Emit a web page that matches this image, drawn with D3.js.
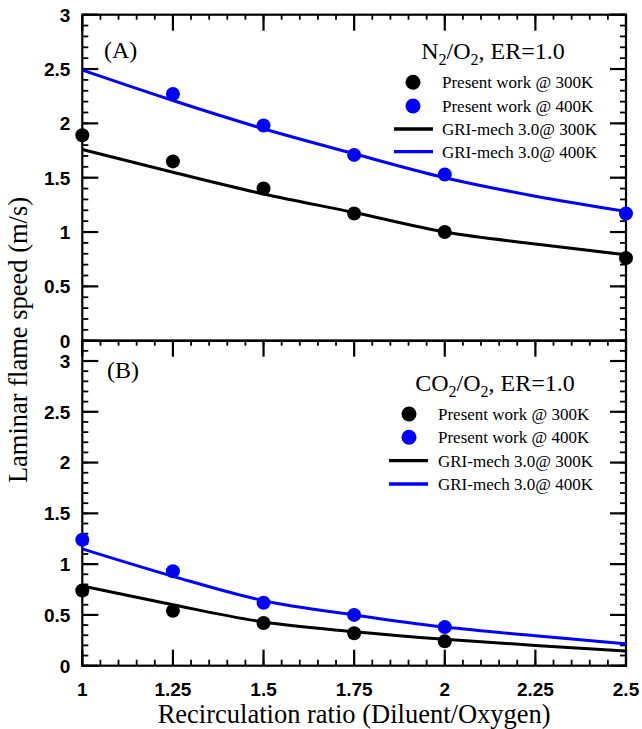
<!DOCTYPE html>
<html><head><meta charset="utf-8">
<script src="https://cdn.jsdelivr.net/npm/d3@7"></script>
<style>body{margin:0;background:#fff}</style>
</head><body><svg id="c" width="642" height="729"></svg>
<script>
// ---------- data ----------
const xGrid = [1, 1.25, 1.5, 1.75, 2, 2.25, 2.5];
const xTicks = [1, 1.25, 1.5, 1.75, 2, 2.25, 2.5];
const yTicks = [0, 0.5, 1, 1.5, 2, 2.5, 3];
// Panel (A) N2/O2
const expX_A300 = [1, 1.25, 1.5, 1.75, 2, 2.5];
const exp_A300  = [1.89, 1.65, 1.40, 1.17, 1.00, 0.76];
const expX_A400 = [1.25, 1.5, 1.75, 2, 2.5];
const exp_A400  = [2.27, 1.98, 1.71, 1.53, 1.17];
const gri_A300  = [1.76, 1.55, 1.35, 1.18, 1.00, 0.89, 0.79];
const gri_A400  = [2.49, 2.21, 1.95, 1.72, 1.50, 1.33, 1.19];
// Panel (B) CO2/O2
const expX_B300 = [1, 1.25, 1.5, 1.75, 2];
const exp_B300  = [0.74, 0.54, 0.42, 0.32, 0.24];
const expX_B400 = [1, 1.25, 1.5, 1.75, 2];
const exp_B400  = [1.24, 0.93, 0.62, 0.50, 0.38];
const gri_B300  = [0.785, 0.60, 0.43, 0.335, 0.26, 0.20, 0.145];
const gri_B400  = [1.15, 0.88, 0.64, 0.50, 0.38, 0.295, 0.215];
const legendLabels = ["Present work @ 300K", "Present work @ 400K", "GRI-mech 3.0@ 300K", "GRI-mech 3.0@ 400K"];
const colors = ["#000000", "#0000ff"];

// ---------- layout ----------
const svg = d3.select("#c");
const L = 82.3, R = 626;
const x = d3.scaleLinear().domain([1, 2.5]).range([L, R]);
const xMinor = d3.range(0, 31).map(i => 1 + i * 0.05);

const panels = [
  { top: 14.7, bottom: 340.7, max: 3, tag: "(A)", tagX: 104, tagY: 58,
    title: ["N", "2", "/O", "2", ", ER=1.0"], titleX: 493, titleY: 59,
    legX: 413, legTextX: 442, legLine: [394, 433], legRows: [82.3, 106, 129, 151.7],
    exp: [[expX_A300, exp_A300], [expX_A400, exp_A400]], gri: [gri_A300, gri_A400],
    xLabels: false },
  { top: 340.7, bottom: 665.7, max: 3.2, tag: "(B)", tagX: 107, tagY: 378,
    title: ["CO", "2", "/O", "2", ", ER=1.0"], titleX: 495, titleY: 391,
    legX: 409, legTextX: 438, legLine: [389, 428], legRows: [414, 437.3, 460.7, 484],
    exp: [[expX_B300, exp_B300], [expX_B400, exp_B400]], gri: [gri_B300, gri_B400],
    xLabels: true }
];

const serif = "'Liberation Serif','Times New Roman',serif";
const sans = "'Liberation Sans',Arial,sans-serif";
const TICK = "#000";

function drawTicks(g, vals, x1, y1, x2, y2, w) {
  g.append("g").selectAll("line").data(vals).enter().append("line")
    .attr("x1", x1).attr("y1", y1).attr("x2", x2).attr("y2", y2)
    .attr("stroke", TICK).attr("stroke-width", w);
}

panels.forEach(p => {
  const y = d3.scaleLinear().domain([0, p.max]).range([p.bottom, p.top]);
  const yMinor = d3.range(0, Math.round(p.max * 10) + 1).map(i => i / 10);
  const g = svg.append("g");

  g.append("rect").attr("x", L).attr("y", p.top).attr("width", R - L).attr("height", p.bottom - p.top)
    .attr("fill", "none").attr("stroke", "#000").attr("stroke-width", 2.2);

  drawTicks(g, yMinor, L, d => y(d), L + 6, d => y(d), 1.8);
  drawTicks(g, yMinor, R, d => y(d), R - 6, d => y(d), 1.8);
  drawTicks(g, xMinor, d => x(d), p.top, d => x(d), p.top + 5, 1.8);
  drawTicks(g, yTicks, L, d => y(d), L + 16, d => y(d), 2.2);
  drawTicks(g, yTicks, R, d => y(d), R - 16, d => y(d), 2.2);
  drawTicks(g, xTicks, d => x(d), p.top, d => x(d), p.top + 16, 2.2);
  g.append("g").selectAll("text").data(yTicks).enter().append("text")
    .attr("x", L - 12).attr("y", d => y(d)).attr("dy", "0.36em").attr("text-anchor", "end")
    .attr("font-family", sans).attr("font-weight", "bold").attr("font-size", 19).text(d => String(d));
  if (p.xLabels) {
    drawTicks(g, xMinor, d => x(d), p.bottom, d => x(d), p.bottom - 6, 1.8);
    drawTicks(g, xTicks, d => x(d), p.bottom, d => x(d), p.bottom - 16, 2.2);
    g.append("g").selectAll("text").data(xTicks).enter().append("text")
      .attr("x", d => x(d)).attr("y", p.bottom + 30).attr("text-anchor", "middle")
      .attr("font-family", sans).attr("font-weight", "bold").attr("font-size", 19).text(d => String(d));
  }

  const line = d3.line().x((d, i) => x(xGrid[i])).y(d => y(d)).curve(d3.curveMonotoneX);
  p.gri.forEach((s, k) => {
    g.append("path").attr("d", line(s)).attr("fill", "none")
      .attr("stroke", colors[k]).attr("stroke-width", 3);
  });
  p.exp.forEach(([xs, ys], k) => {
    g.append("g").selectAll("circle").data(ys).enter().append("circle")
      .attr("cx", (d, i) => x(xs[i])).attr("cy", d => y(d)).attr("r", 7).attr("fill", colors[k]);
  });

  g.append("text").attr("x", p.tagX).attr("y", p.tagY).attr("font-family", serif)
    .attr("font-size", 24).text(p.tag);
  const t = g.append("text").attr("x", p.titleX).attr("y", p.titleY).attr("text-anchor", "middle")
    .attr("font-family", serif).attr("font-size", 24);
  p.title.forEach((s, i) => {
    const sub = (s === "2");
    t.append("tspan").text(s).attr("font-size", sub ? 16 : 24)
      .attr("dy", sub ? 6 : (i > 0 ? -6 : 0));
  });
  legendLabels.forEach((lab, i) => {
    const ry = p.legRows[i];
    const c = colors[i % 2];
    if (i < 2) {
      g.append("circle").attr("cx", p.legX).attr("cy", ry).attr("r", 7.5).attr("fill", c);
    } else {
      g.append("line").attr("x1", p.legLine[0]).attr("x2", p.legLine[1]).attr("y1", ry).attr("y2", ry)
        .attr("stroke", c).attr("stroke-width", 3.3);
    }
    g.append("text").attr("x", p.legTextX).attr("y", ry + 6).attr("font-family", serif)
      .attr("font-size", 17).text(lab);
  });
});

svg.append("text").attr("x", (L + R) / 2).attr("y", 723).attr("text-anchor", "middle")
  .attr("font-family", serif).attr("font-size", 26.5).text("Recirculation ratio (Diluent/Oxygen)");
svg.append("text").attr("transform", "translate(27,340) rotate(-90)").attr("text-anchor", "middle")
  .attr("font-family", serif).attr("font-size", 26.5).text("Laminar flame speed (m/s)");
</script></body></html>
